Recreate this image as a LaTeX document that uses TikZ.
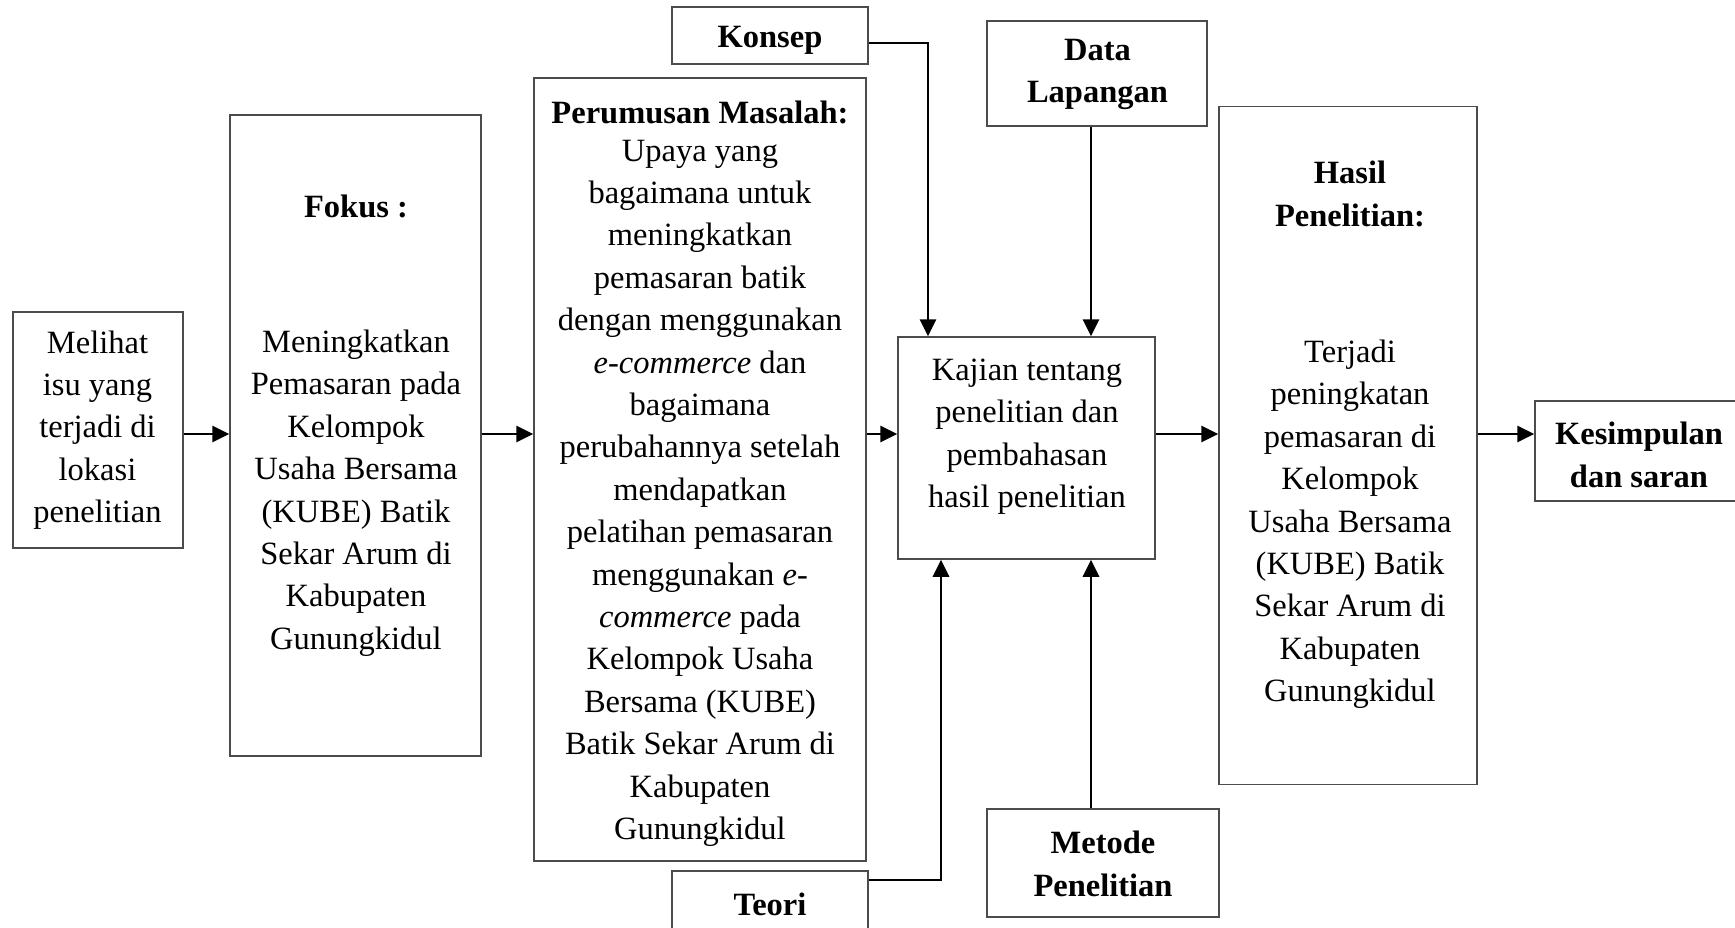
\documentclass[tikz,border=0pt]{standalone}
\usepackage{fontspec}
\setmainfont{Liberation Serif}
\usetikzlibrary{arrows.meta}

\tikzset{
  box/.style={draw=black!70, line width=1.5pt, rectangle, inner sep=0pt},
  txt/.style={align=center, inner sep=0pt, yshift=-4pt, font=\fontsize{32.5}{42.4}\selectfont},
  flow/.style={line width=2.8pt, ->},
}

\begin{document}
\begin{tikzpicture}[x=1pt, y=-1pt, >={Triangle[length=17pt, width=16pt]}]
    \useasboundingbox (0,0) rectangle (1735,927);

    % boxes
    \node[box, minimum width=170pt, minimum height=236pt] (melihat) at (98,430) {};
    \node[box, minimum width=251pt, minimum height=641pt] (fokus) at (355.5,435.5) {};
    \node[box, minimum width=332pt, minimum height=783pt] (rumusan) at (700,469.5) {};
    \node[box, minimum width=196pt, minimum height=57pt] (konsep) at (770,35.5) {};
    \node[box, minimum width=196pt, minimum height=70pt] (teori) at (770,906) {};
    \node[box, minimum width=220pt, minimum height=105pt] (data) at (1097,73.5) {};
    \node[box, minimum width=232pt, minimum height=108pt] (metode) at (1103,863) {};
    \node[box, minimum width=257pt, minimum height=222pt] (kajian) at (1026.5,448) {};
    \node[box, minimum width=258pt, minimum height=678pt] (hasil) at (1348,445.5) {};
    \node[box, minimum width=208pt, minimum height=100pt] (kesimpulan) at (1639,451) {};

    % texts
    \node[txt] (melihatT) at (97.5,426) {Melihat\\isu yang\\terjadi di\\lokasi\\penelitian};
    \node[txt] (fokusT) at (356,421.6) {\textbf{Fokus :}\\[92.6pt]Meningkatkan\\Pemasaran pada\\Kelompok\\Usaha Bersama\\(KUBE) Batik\\Sekar Arum di\\Kabupaten\\Gunungkidul};
    \node[txt] (rumusanT) at (700,469.7) {\textbf{Perumusan Masalah:}\\[-4.8pt]Upaya yang\\bagaimana untuk\\meningkatkan\\pemasaran batik\\dengan menggunakan\\\textit{e-commerce} dan\\bagaimana\\perubahannya setelah\\mendapatkan\\pelatihan pemasaran\\menggunakan \textit{e-}\\\textit{commerce} pada\\Kelompok Usaha\\Bersama (KUBE)\\Batik Sekar Arum di\\Kabupaten\\Gunungkidul};
    \node[txt] (konsepT) at (770,36.5) {\textbf{Konsep}};
    \node[txt] (teoriT) at (770,900) {\textbf{Teori}};
    \node[txt] (dataT) at (1097.5,70.3) {\textbf{Data}\\\textbf{Lapangan}};
    \node[txt] (metodeT) at (1103,860) {\textbf{Metode}\\\textbf{Penelitian}};
    \node[txt] (kajianT) at (1027,432.6) {Kajian tentang\\penelitian dan\\pembahasan\\hasil penelitian};
    \node[txt] (hasilT) at (1350,431) {\textbf{Hasil}\\\textbf{Penelitian:}\\[93.7pt]Terjadi\\peningkatan\\pemasaran di\\Kelompok\\Usaha Bersama\\(KUBE) Batik\\Sekar Arum di\\Kabupaten\\Gunungkidul};
    \node[txt] (kesimpulanT) at (1639,451) {\textbf{Kesimpulan}\\\textbf{dan saran}};

    % guide lines for the connectors
    \coordinate (axis) at (0,434);
    \coordinate (konsepRow) at (0,43);
    \coordinate (teoriRow) at (0,880);
    \coordinate (colA) at (928,0);
    \coordinate (colB) at (941,0);
    \coordinate (colC) at (1091,0);

    \draw[flow] (melihat.east |- axis) -- (fokus.west |- axis);
    \draw[flow] (fokus.east |- axis) -- (rumusan.west |- axis);
    \draw[flow] (rumusan.east |- axis) -- (kajian.west |- axis);
    \draw[flow] (kajian.east |- axis) -- (hasil.west |- axis);
    \draw[flow] (hasil.east |- axis) -- (kesimpulan.west |- axis);
    \draw[flow] (konsep.east |- konsepRow) -| (colA |- kajian.north);
    \draw[flow] (teori.east |- teoriRow) -| (colB |- kajian.south);
    \draw[flow] (colC |- data.south) -- (colC |- kajian.north);
    \draw[flow] (colC |- metode.north) -- (colC |- kajian.south);
\end{tikzpicture}
\end{document}
